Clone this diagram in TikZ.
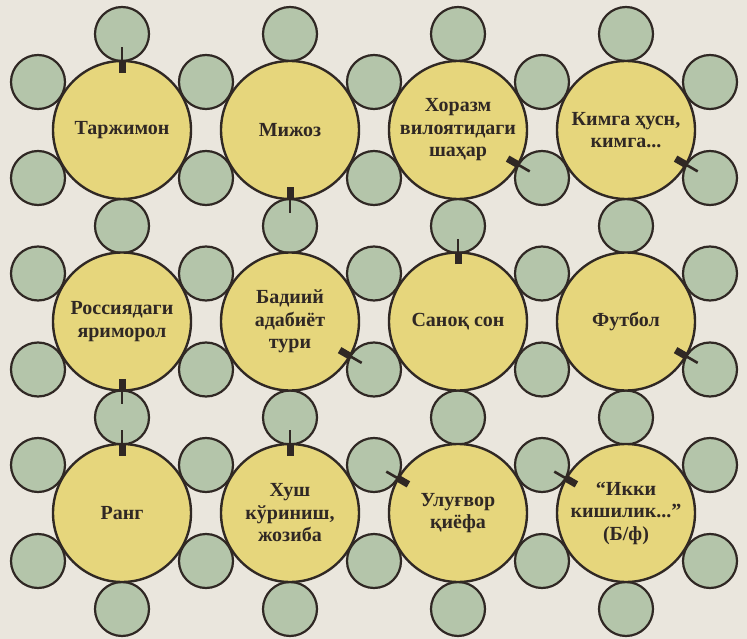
\documentclass[tikz,border=0pt]{standalone}
\usepackage{fontspec}
\setmainfont{Liberation Serif}
\usetikzlibrary{calc}
\definecolor{paper}{RGB}{234,230,221}
\definecolor{yel}{RGB}{230,214,124}
\definecolor{grn}{RGB}{180,197,170}
\definecolor{ink}{RGB}{48,40,36}
\tikzset{
  big/.style={circle, draw=ink, line width=2.4pt, fill=yel, minimum size=138pt,
    inner sep=0pt, outer sep=0pt, align=center, text=ink,
    font=\fontsize{20}{22.5}\selectfont\bfseries},
  small/.style={circle, draw=ink, line width=2.2pt, fill=grn, minimum size=54pt,
    inner sep=0pt, outer sep=0pt},
  hand/.style={draw=ink, line width=7pt},
  needle/.style={draw=ink, line width=2.6pt},
}
\begin{document}
\begin{tikzpicture}[x=1pt,y=-1pt]
\useasboundingbox (0,0) rectangle (747,639);
\fill[paper] (0,0) rectangle (747,639);
% small circles on the column lines
\foreach \i/\x in {1/122,2/290,3/458,4/626}{
  \foreach \j/\y in {1/34,2/226,3/417.5,4/609}{
    \node[small] (v\i\j) at (\x,\y) {};
  }
}
% small circles between columns
\foreach \i/\x in {1/38,2/206,3/374,4/542,5/710}{
  \foreach \j/\y in {1/82,2/178,3/273.5,4/369.5,5/465,6/561}{
    \node[small] (h\i\j) at (\x,\y) {};
  }
}
% big circles
\node[big] (b11) at (122,130) {Таржимон};
\node[big] (b21) at (290,130) {Мижоз};
\node[big] (b31) at (458,130) {Хоразм\\вилоятидаги\\шаҳар};
\node[big] (b41) at (626,130) {Кимга ҳусн,\\кимга...};
\node[big] (b12) at (122,321.5) {Россиядаги\\яриморол};
\node[big] (b22) at (290,321.5) {Бадиий\\адабиёт\\тури};
\node[big] (b32) at (458,321.5) {Саноқ сон};
\node[big] (b42) at (626,321.5) {Футбол};
\node[big] (b13) at (122,513) {Ранг};
\node[big] (b23) at (290,513) {Хуш\\кўриниш,\\жозиба};
\node[big] (b33) at (458,513) {Улуғвор\\қиёфа};
\node[big] (b43) at (626,513) {“Икки\\кишилик...”\\(Б/ф)};
% pointers
\foreach \n/\a in {b11/90,b21/270,b31/330,b41/330,b12/270,b22/330,b32/90,b42/330,b13/90,b23/90,b33/150,b43/150}{
  \draw[hand] ($(\n.center)!0.83!(\n.\a)$) -- (\n.\a);
  \draw[needle] (\n.\a) -- ($(\n.center)!1.2!(\n.\a)$);
}
\end{tikzpicture}
\end{document}
